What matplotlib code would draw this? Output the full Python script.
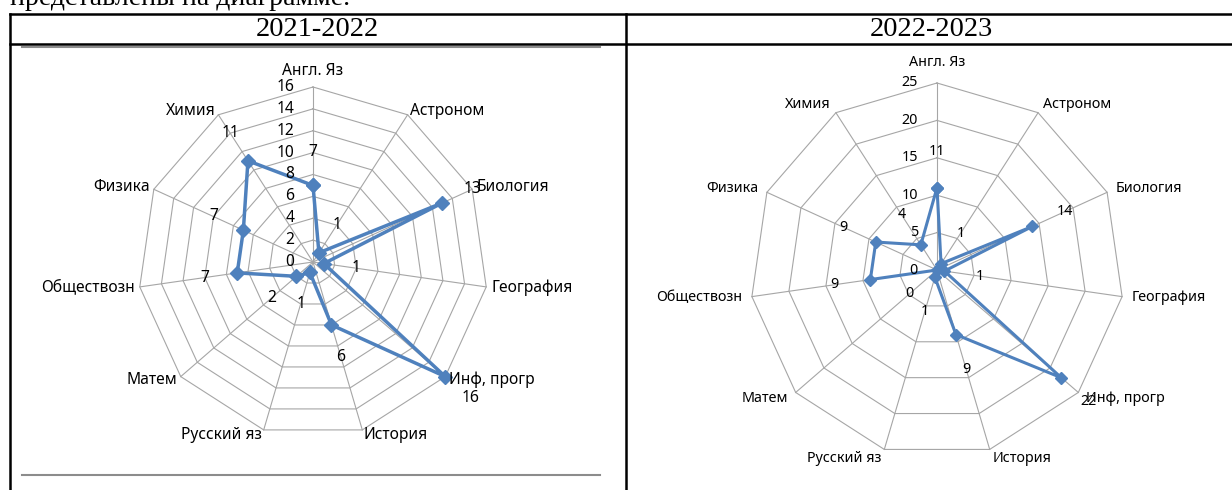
import numpy as np
import matplotlib.pyplot as plt

categories = ['Англ. Яз', 'Астроном', 'Биология', 'География', 'Инф, прогр',
              'История', 'Русский яз', 'Матем', 'Обществозн', 'Физика', 'Химия']
vals_2122 = [7, 1, 13, 1, 16, 6, 1, 2, 7, 7, 11]
vals_2223 = [11, 1, 14, 1, 22, 9, 1, 0, 9, 9, 4]
ticks_2122 = [0, 2, 4, 6, 8, 10, 12, 14, 16]
ticks_2223 = [0, 5, 10, 15, 20, 25]
years = ['2021-2022', '2022-2023']

W, H = 1232, 490
PT = 0.72  # points per pixel at dpi 100
plt.rcParams['font.family'] = ['Noto Sans', 'DejaVu Sans']
fig = plt.figure(figsize=(W / 100, H / 100), dpi=100)

# page / table frame, in pixel coordinates
page = fig.add_axes([0, 0, 1, 1])
page.set_xlim(0, W)
page.set_ylim(H, 0)
page.axis('off')
serif = ['Liberation Serif', 'DejaVu Serif']
page.text(10, 5, 'представлены на диаграмме.', family=serif, fontsize=20, va='baseline')
page.plot([9.5, W], [14, 14], color='black', lw=1.8)
page.plot([9.5, W], [44, 44], color='black', lw=1.8)
page.plot([9.5, 9.5], [14, H], color='black', lw=1.8)
page.plot([626, 626], [14, H], color='black', lw=1.8)
page.text(317, 29, years[0], family=serif, fontsize=20.5, ha='center', va='center')
page.text(931, 29, years[1], family=serif, fontsize=20.5, ha='center', va='center')
page.plot([22, 600], [47, 47], color='#8c8c8c', lw=1.5)
page.plot([22, 600], [475, 475], color='#8c8c8c', lw=1.5)


def radar(cx, cy, R, values, ticks, fs, lw, ms, lab_off, cat_gap):
    ax = fig.add_axes([(cx - R) / W, (H - cy - R) / H, 2 * R / W, 2 * R / H],
                      projection='polar')
    ax.set_theta_zero_location('N')
    ax.set_theta_direction(-1)
    ax.set_ylim(0, ticks[-1])
    ax.axis('off')
    n = len(categories)
    ang = np.linspace(0, 2 * np.pi, n, endpoint=False)
    closed = np.r_[ang, ang[0]]

    # polygon grid
    for t in ticks[1:]:
        ax.plot(closed, [t] * (n + 1), color='#a6a6a6', lw=0.8, clip_on=False)
    for a in ang:
        ax.plot([a, a], [0, ticks[-1]], color='#a6a6a6', lw=0.8, clip_on=False)

    # series
    ax.plot(closed, list(values) + [values[0]], color='#4F81BD', lw=lw,
            marker='D', ms=ms, mec='#4F81BD', clip_on=False, zorder=3)

    # radial tick labels
    for t in ticks:
        ax.annotate(str(t), xy=(0, t), xytext=(-19 * PT, 0), textcoords='offset points',
                    ha='right', va='center', fontsize=fs, annotation_clip=False)

    # category labels
    for a, name in zip(ang, categories):
        s, c = np.sin(a), np.cos(a)
        ha = 'left' if s > 0.1 else ('right' if s < -0.1 else 'center')
        if c > 0.99:
            va, g = 'bottom', cat_gap + 2
        else:
            va, g = 'center', cat_gap
        ax.annotate(name, xy=(a, ticks[-1]), xytext=(g * s, g * c),
                    textcoords='offset points', ha=ha, va=va, fontsize=fs,
                    annotation_clip=False)

    # data labels
    for a, v in zip(ang, values):
        s, c = np.sin(a), np.cos(a)
        ax.annotate(str(v), xy=(a, v), xytext=(lab_off * s * PT, lab_off * c * PT),
                    textcoords='offset points', ha='center', va='center',
                    fontsize=fs, annotation_clip=False)


radar(313, 262, 175, vals_2122, ticks_2122, 11.2, 2.5, 7.5, 33, 3.5)
radar(937, 270, 187, vals_2223, ticks_2223, 10.3, 2.2, 6.5, 36, 7)

fig.savefig('out.png', dpi=100)
